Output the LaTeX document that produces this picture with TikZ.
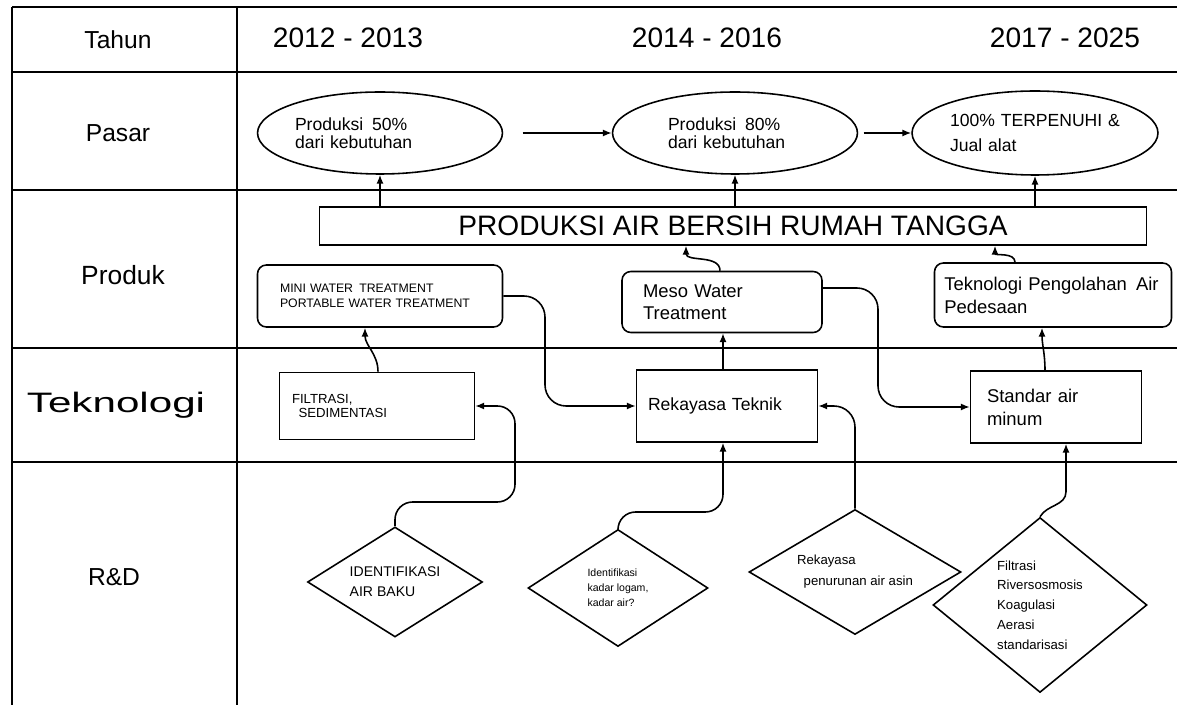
\documentclass[tikz,border=0pt]{standalone}
\usepackage{fontspec}
\setmainfont{Liberation Sans}
\usetikzlibrary{shapes.geometric,arrows.meta}

\begin{document}
\begin{tikzpicture}
  [x=0.02cm, y=0.02cm, line width=0.9pt, >={Latex[length=5pt,width=4pt]},
   ell/.style={draw, ellipse, inner sep=0pt, align=left, minimum width=4.9cm, minimum height=1.64cm},
   rbox/.style={draw, rounded corners=5pt, inner sep=0pt, align=left},
   sbox/.style={draw, inner sep=0pt, align=left},
   dia/.style={draw, diamond, aspect=1.6, inner sep=0pt, align=left},
   lbl/.style={font=\fontsize{14}{16}\selectfont},
   yr/.style={font=\fontsize{16}{18}\selectfont}]
  \useasboundingbox (0,0) rectangle (1177,-705);

  % table
  \foreach \y in {-7,-72,-190,-348,-462}
  \draw[line width=0.7pt] (12,\y) -- (1177,\y);
  \draw[line width=0.7pt] (12,-7) -- (12,-705);
  \draw[line width=0.7pt] (237,-7) -- (237,-705);

  \node[lbl] (tahun) at (118,-40) {Tahun};
  \node[lbl] (pasar) at (118,-133) {Pasar};
  \node[lbl, font=\fontsize{15}{17}\selectfont] (produk) at (123,-275) {Produk};
  \node[lbl, font=\fontsize{16}{18}\selectfont] (tekno) at (116,-405) {\scalebox{1.5}[1]{Teknologi}};
  \node[lbl] (rnd) at (114,-577) {R\&D};
  \node[yr] (y1) at (348,-38) {2012 - 2013};
  \node[yr] (y2) at (707,-38) {2014 - 2016};
  \node[yr] (y3) at (1065,-38) {2017 - 2025};

  % pasar
  \node[ell, text width=3.4cm, font=\fontsize{10}{10.5}\selectfont] (e1) at (380,-133)
    {Produksi\enspace 50\%\\dari kebutuhan};
  \node[ell, text width=2.68cm, font=\fontsize{10}{10.5}\selectfont] (e2) at (735,-133)
    {Produksi\enspace 80\%\\dari kebutuhan};
  \node[ell, text width=3.4cm, minimum width=4.92cm, minimum height=1.68cm,
    font=\fontsize{10}{14}\selectfont] (e3) at (1035,-133)
    {100\% TERPENUHI \&\\Jual alat};

  % produk
  \node[sbox, minimum width=16.54cm, minimum height=0.76cm, align=center,
    font=\fontsize{16}{18}\selectfont] (pb) at (733,-226)
    {PRODUKSI AIR BERSIH RUMAH TANGGA};
  \node[rbox, text width=4.0cm, minimum width=4.9cm, minimum height=1.24cm,
    font=\fontsize{7}{8.5}\selectfont] (p1) at (380,-296)
    {MINI WATER\enspace TREATMENT\\PORTABLE WATER TREATMENT};
  \node[rbox, text width=3.16cm, minimum width=4.0cm, minimum height=1.22cm,
    font=\fontsize{10.5}{12.5}\selectfont] (p2) at (722,-302)
    {Meso Water\\Treatment};
  \node[rbox, text width=4.35cm, minimum width=4.74cm, minimum height=1.28cm,
    font=\fontsize{10.5}{13}\selectfont] (p3) at (1053,-295)
    {Teknologi Pengolahan\enspace Air\\Pedesaan};

  % teknologi
  \node[sbox, text width=3.4cm, minimum width=3.9cm, minimum height=1.34cm,
    font=\fontsize{7.5}{8.5}\selectfont] (t1) at (377,-406)
    {FILTRASI,\\\enspace SEDIMENTASI};
  \node[sbox, text width=3.16cm, minimum width=3.62cm, minimum height=1.44cm,
    font=\fontsize{10}{12}\selectfont] (t2) at (727,-406)
    {Rekayasa Teknik};
  \node[sbox, text width=2.76cm, minimum width=3.42cm, minimum height=1.44cm,
    font=\fontsize{10.5}{13}\selectfont] (t3) at (1056,-407)
    {Standar air\\minum};

  % R&D
  \node[dia, minimum width=3.5cm, minimum height=2.2cm,
    font=\fontsize{8}{11.3}\selectfont] (d1) at (395,-582)
    {IDENTIFIKASI\\AIR BAKU};
  \node[dia, minimum width=3.6cm, minimum height=2.34cm,
    font=\fontsize{6}{8.5}\selectfont] (d2) at (618,-588)
    {Identifikasi\\kadar logam,\\kadar air?};
  \node[dia, minimum width=4.24cm, minimum height=2.5cm,
    font=\fontsize{7.5}{12}\selectfont] (d3) at (855,-572)
    {Rekayasa\\\enspace penurunan air asin};
  \node[dia, aspect=1.2, minimum width=4.28cm, minimum height=3.5cm,
    font=\fontsize{7.5}{11.3}\selectfont] (d4) at (1040,-605)
    {Filtrasi\\Riversosmosis\\Koagulasi\\Aerasi\\standarisasi};

  % connectors
  \draw[->, shorten <=11pt] (e1) -- (e2);
  \draw[->, shorten <=3pt] (e2) -- (e3);
  \foreach \e in {e1,e2,e3}
  \draw[->] (pb.north -| \e.south) -- (\e.south);
  \draw[->] (720,0 |- p2.north) to[out=90,in=-90] (686,0 |- pb.south);
  \draw[->] (1015,0 |- p3.north) to[out=90,in=-90] (995,0 |- pb.south);

  \draw[->] (378,0 |- t1.north) to[out=90,in=-90] (365,0 |- p1.south);
  \draw[->] (723,0 |- t2.north) -- (723,0 |- p2.south);
  \draw[->] (1045,0 |- t3.north) to[out=90,in=-90] (1042,0 |- p3.south);

  \draw[->, rounded corners=12pt] (p1.east) -| (545,0 |- t2.west) -- (t2.west);
  \draw[->, rounded corners=12pt] (p2.east |- 0,-288) -| (878,0 |- t3.west) -- (t3.west);

  \draw[->, rounded corners=10pt] (d1.north) |- (515,-502) |- (t1.east);
  \draw[->, rounded corners=10pt] (d2.north) |- (723,-512) -- (723,0 |- t2.south);
  \draw[->, rounded corners=12pt] (d3.north) |- (t2.east);
  \draw[->] (d4.north) to[out=60,in=-90] ++(26,25) -- (1066,0 |- t3.south);

\end{tikzpicture}
\end{document}
